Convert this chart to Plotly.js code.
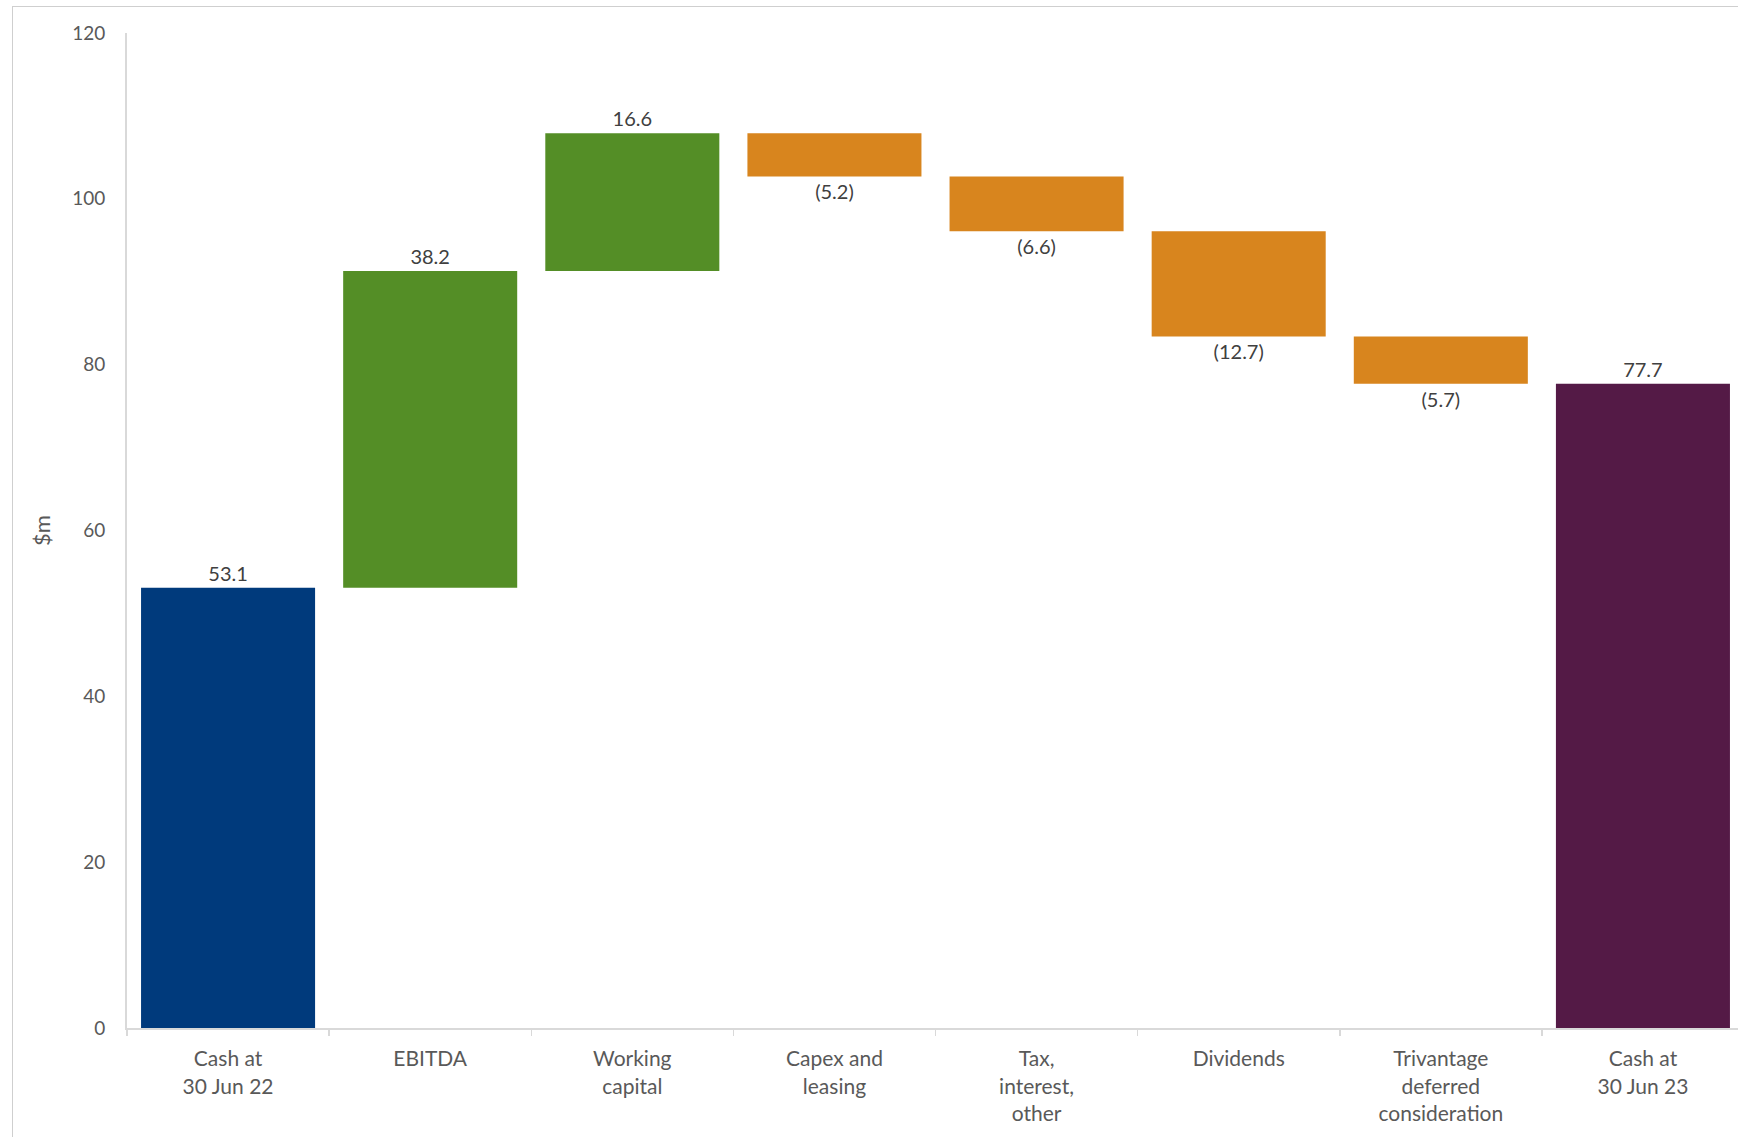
<!DOCTYPE html>
<html>
<head>
<meta charset="utf-8">
<script src="https://cdn.plot.ly/plotly-3.0.1.min.js"></script>
<style>
  html, body { margin: 0; padding: 0; background: #ffffff; overflow: hidden; width: 1738px; height: 1137px; }
  #frame { position: absolute; left: 12px; top: 6px; width: 2000px; height: 2000px;
           border-left: 1.5px solid #cfcfcf; border-top: 1.5px solid #cfcfcf; box-sizing: border-box; pointer-events: none; }
  #chart { position: absolute; left: 0; top: 0; }
</style>
</head>
<body>
<div id="frame"></div>
<div id="chart"></div>
<script>
// ---- data ----
const categories = [
  "Cash at<br>30 Jun 22",
  "EBITDA",
  "Working<br>capital",
  "Capex and<br>leasing",
  "Tax,<br>interest,<br>other",
  "Dividends",
  "Trivantage<br>deferred<br>consideration",
  "Cash at<br>30 Jun 23"
];
const values = [53.1, 38.2, 16.6, -5.2, -6.6, -12.7, -5.7, 77.7];
const kinds = ["total", "relative", "relative", "relative", "relative", "relative", "relative", "total"];
const colors = ["#003A7C", "#548E26", "#548E26", "#D8851E", "#D8851E", "#D8851E", "#D8851E", "#541A46"];
const yTicks = [0, 20, 40, 60, 80, 100, 120];

// ---- derived bar bases (running total) ----
let running = 0;
const bases = [];
const heights = [];
const labels = [];
values.forEach((v, i) => {
  if (kinds[i] === "total") {
    bases.push(0);
    heights.push(v);
    running = v;
  } else {
    bases.push(running);
    heights.push(v);
    running = running + v;
  }
  labels.push(v < 0 ? "(" + Math.abs(v).toFixed(1) + ")" : v.toFixed(1));
});

const font = "Lato, 'Open Sans', sans-serif";

const trace = {
  type: "bar",
  x: categories,
  y: heights,
  base: bases,
  marker: { color: colors, line: { width: 0 } },
  text: labels,
  texttemplate: "%{text}",
  textposition: "outside",
  textfont: { family: font, size: 20, color: "#404040" },
  cliponaxis: false,
  hoverinfo: "skip",
  showlegend: false
};

const layout = {
  width: 1760,
  height: 1137,
  margin: { l: 127, r: 16, t: 33, b: 109 },
  paper_bgcolor: "rgba(0,0,0,0)",
  plot_bgcolor: "rgba(0,0,0,0)",
  bargap: 0.139,
  font: { family: font, color: "#595959" },
  xaxis: {
    type: "category",
    showline: true,
    linecolor: "#d9d9d9",
    linewidth: 2,
    ticks: "outside",
    tickson: "boundaries",
    ticklen: 6,
    tickwidth: 1.5,
    tickcolor: "#d9d9d9",
    ticklabelstandoff: 11,
    tickfont: { family: font, size: 21, color: "#595959" },
    showgrid: false,
    zeroline: false,
    automargin: false
  },
  yaxis: {
    range: [0, 120],
    tickvals: yTicks,
    ticktext: yTicks.map(String),
    showline: true,
    linecolor: "#d9d9d9",
    linewidth: 2,
    ticks: "",
    ticklabelstandoff: 16,
    tickfont: { family: font, size: 19, color: "#595959" },
    showgrid: false,
    zeroline: false,
    automargin: false,
    title: { text: "$m", font: { family: font, size: 22, color: "#595959" }, standoff: 15 }
  }
};

Plotly.newPlot("chart", [trace], layout, { displayModeBar: false, staticPlot: true });
</script>
</body>
</html>
